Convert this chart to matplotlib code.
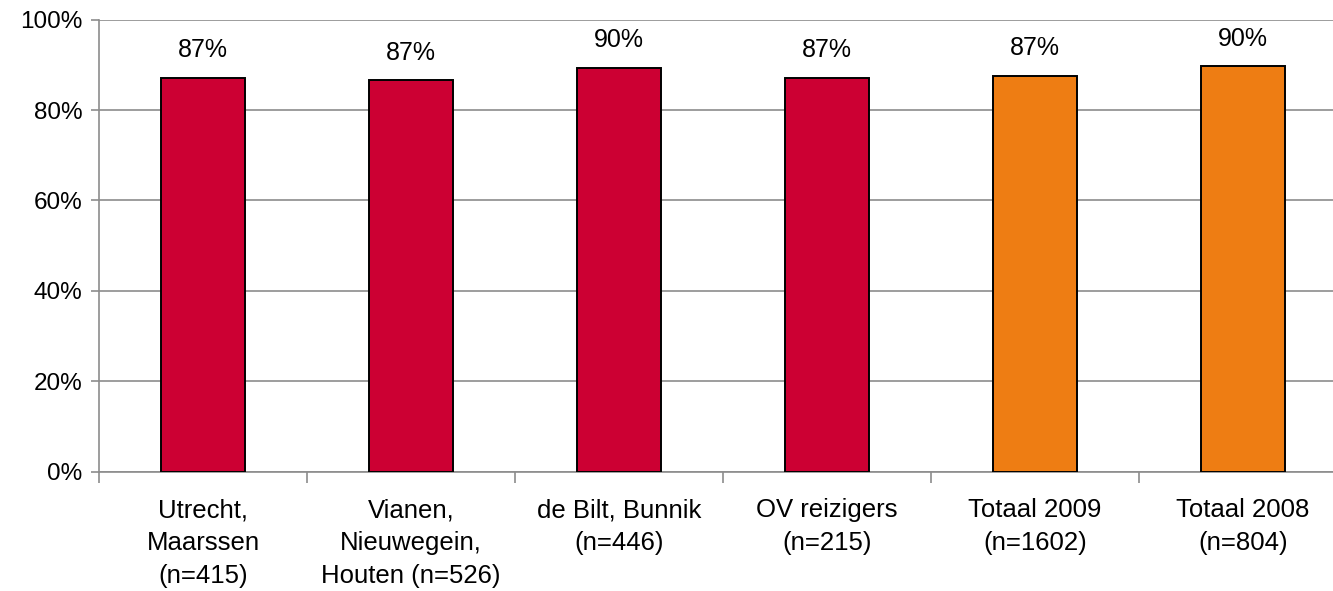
import numpy as np
from matplotlib import pyplot as plt

plt.rcParams['font.family'] = ['Liberation Sans', 'DejaVu Sans']

# Data
categories = ['Utrecht,\nMaarssen\n(n=415)', 'Vianen,\nNieuwegein,\nHouten (n=526)',
              'de Bilt, Bunnik\n(n=446)', 'OV reizigers\n(n=215)',
              'Totaal 2009\n(n=1602)', 'Totaal 2008\n(n=804)']
values = [87.2, 86.7, 89.4, 87.2, 87.6, 89.8]
labels = ['87%', '87%', '90%', '87%', '87%', '90%']
colors = ['#CC0033', '#CC0033', '#CC0033', '#CC0033', '#EE7D13', '#EE7D13']

fig = plt.figure(figsize=(13.33, 5.91), dpi=100)
ax = fig.add_axes([0.0743, 0.2019, 0.9362, 0.7648])

x = np.arange(len(categories))
bars = ax.bar(x, values, width=0.40, color=colors, edgecolor='black', linewidth=1.4, zorder=3)

for b, lab in zip(bars, labels):
    ax.annotate(lab, (b.get_x() + b.get_width()/2, b.get_height()),
                xytext=(0, 11), textcoords='offset points',
                ha='center', va='bottom', fontsize=18)

ax.set_xlim(-0.5, len(categories) - 0.5)
ax.set_ylim(0, 100)
ax.set_yticks(np.arange(0, 101, 20))
ax.set_yticklabels([str(v) + '%' for v in range(0, 101, 20)], fontsize=17.5)
ax.yaxis.grid(True, color='#8c8c8c', linewidth=1.2, zorder=0)

ax.set_xticks(x)
ax.set_xticklabels(categories, fontsize=18.5, linespacing=1.48)
ax.set_xticks(np.arange(-0.5, len(categories), 1), minor=True)
ax.tick_params(axis='x', which='major', length=0, pad=19)
ax.tick_params(axis='x', which='minor', length=8, color='#8c8c8c', width=1.2)
ax.tick_params(axis='y', length=6, color='#8c8c8c', width=1.2, pad=6)

for s in ['top', 'right']:
    ax.spines[s].set_visible(False)
for s in ['left', 'bottom']:
    ax.spines[s].set_color('#8c8c8c')
    ax.spines[s].set_linewidth(1.2)

plt.savefig('out.png', dpi=100)
